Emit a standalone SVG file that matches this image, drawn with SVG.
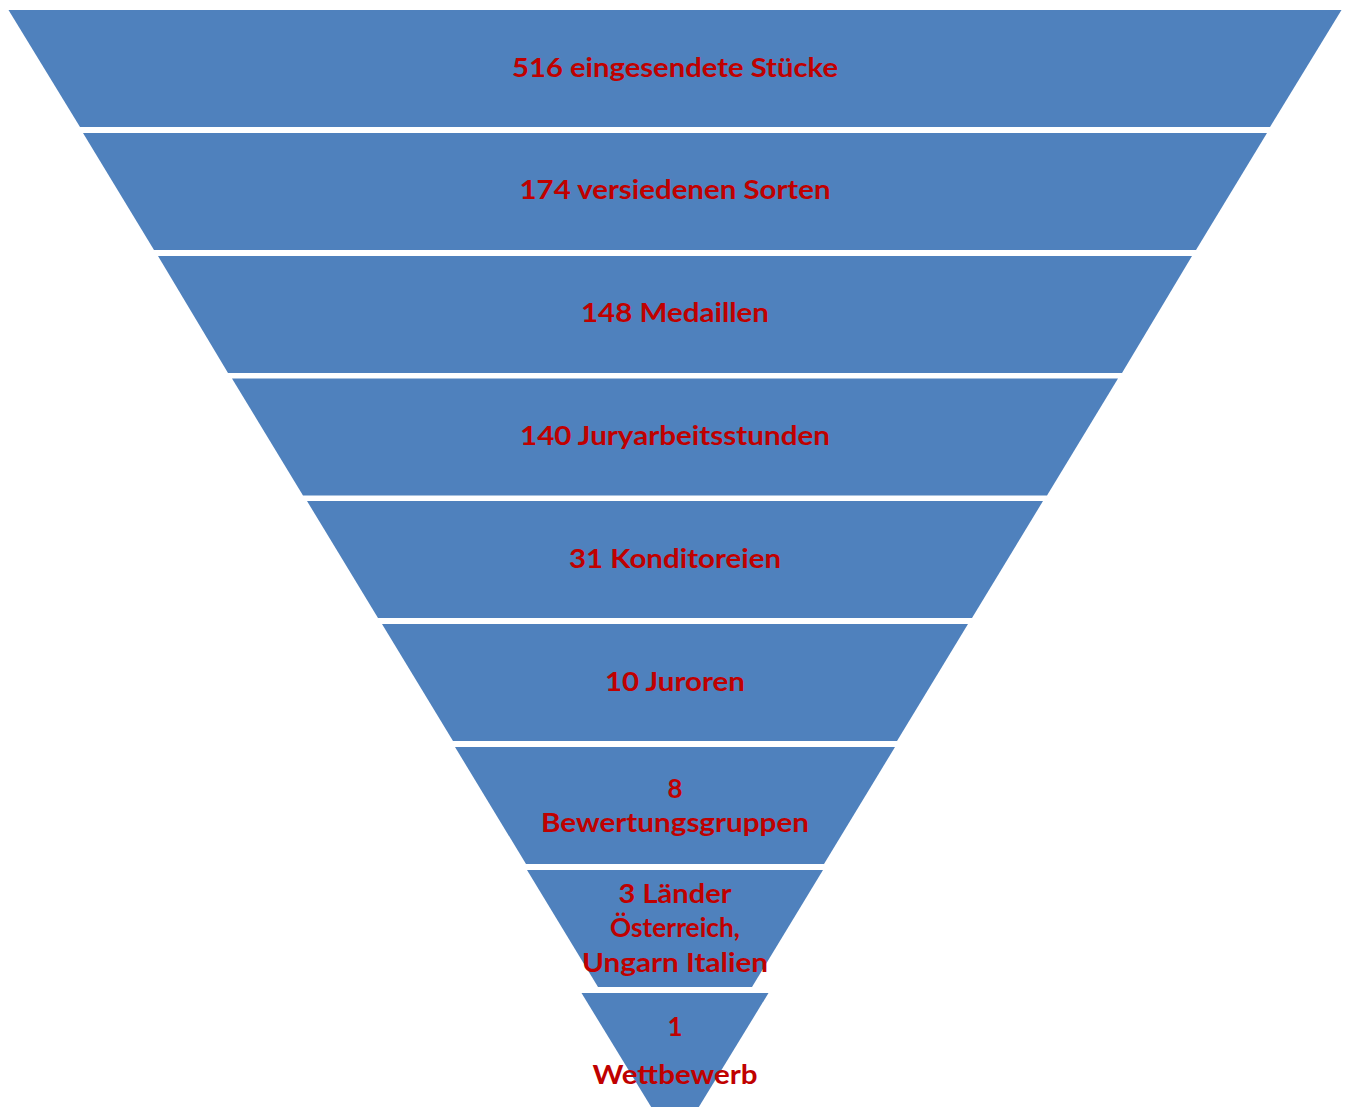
<svg xmlns="http://www.w3.org/2000/svg" width="1349" height="1107" viewBox="0 0 1349 1107">
<style>
.seg{fill:#4F81BD;}
.t{font-family:Lato,"Open Sans","Liberation Sans",sans-serif;font-weight:bold;font-size:26px;fill:#C00000;text-anchor:middle;}
</style>
<rect width="1349" height="1107" fill="#FFFFFF"/>
<g id="connectors"></g>
<g id="n1"><polygon class="seg" points="8.5,10 1341.5,10 1270,127 80,127"/>
<text class="t" x="675" y="77" textLength="326" lengthAdjust="spacingAndGlyphs">516 eingesendete Stücke</text></g>
<g id="n2"><polygon class="seg" points="83,133 1267,133 1196,250 154,250"/>
<text class="t" x="675" y="199" textLength="311" lengthAdjust="spacingAndGlyphs">174 versiedenen Sorten</text></g>
<g id="n3"><polygon class="seg" points="158,256 1192,256 1122,373 228,373"/>
<text class="t" x="675" y="322" textLength="188" lengthAdjust="spacingAndGlyphs">148 Medaillen</text></g>
<g id="n4"><polygon class="seg" points="232,378.5 1118,378.5 1047,495.5 303,495.5"/>
<text class="t" x="675" y="445" textLength="310" lengthAdjust="spacingAndGlyphs">140 Juryarbeitsstunden</text></g>
<g id="n5"><polygon class="seg" points="307,501 1043,501 972,618 378,618"/>
<text class="t" x="675" y="568" textLength="212" lengthAdjust="spacingAndGlyphs">31 Konditoreien</text></g>
<g id="n6"><polygon class="seg" points="382,624 968,624 897,741 453,741"/>
<text class="t" x="675" y="691" textLength="140" lengthAdjust="spacingAndGlyphs">10 Juroren</text></g>
<g id="n7"><polygon class="seg" points="455,747 895,747 824,864 526,864"/>
<text class="t" x="675" y="798">8</text>
<text class="t" x="675" y="832" textLength="268" lengthAdjust="spacingAndGlyphs">Bewertungsgruppen</text></g>
<g id="n8"><polygon class="seg" points="527,870 823,870 752,987 598,987"/>
<text class="t" x="675" y="903" textLength="113" lengthAdjust="spacingAndGlyphs">3 Länder</text>
<text class="t" x="675" y="937" textLength="130" lengthAdjust="spacingAndGlyphs">Österreich,</text>
<text class="t" x="675" y="972" textLength="186" lengthAdjust="spacingAndGlyphs">Ungarn Italien</text></g>
<g id="n9"><polygon class="seg" points="581.5,993 768.5,993 675,1146"/>
<text class="t" x="675" y="1036">1</text>
<text class="t" x="675" y="1084" textLength="165" lengthAdjust="spacingAndGlyphs">Wettbewerb</text></g>
</svg>
